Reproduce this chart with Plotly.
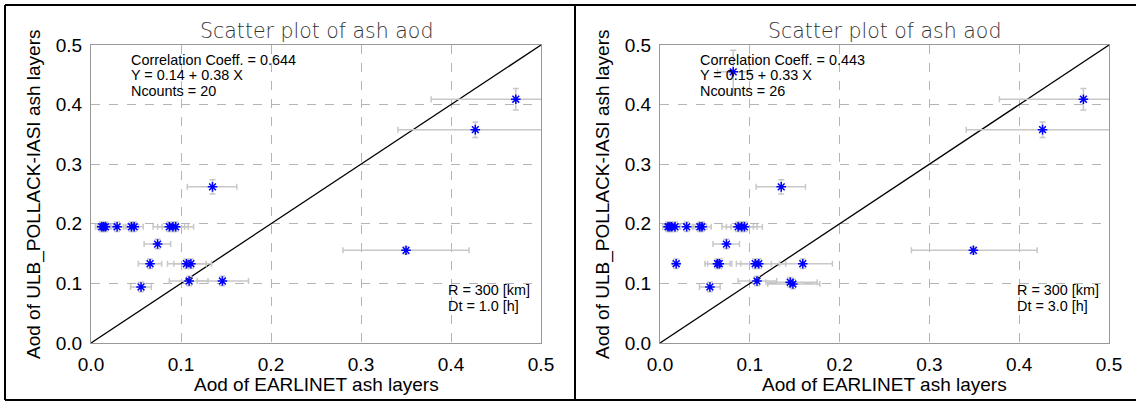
import plotly.graph_objects as go

W, H = 1136, 403

# ---------------- data: left panel (Dt = 1.0 h) ----------------
left_x = [0.135, 0.012, 0.014, 0.016, 0.029, 0.045, 0.048, 0.087, 0.091, 0.094,
          0.074, 0.0656, 0.106, 0.111, 0.109, 0.146, 0.0556, 0.472, 0.427, 0.350]
left_y = [0.262, 0.195, 0.195, 0.195, 0.195, 0.195, 0.195, 0.195, 0.195, 0.195,
          0.166, 0.133, 0.133, 0.133, 0.104, 0.104, 0.094, 0.409, 0.358, 0.1555]
left_xlo = [0.107, 0.005, 0.007, 0.008, 0.022, 0.038, 0.040, 0.069, 0.074, 0.079,
            0.059, 0.0526, 0.085, 0.092, 0.087, 0.118, 0.044, 0.378, 0.341, 0.280]
left_xhi = [0.162, 0.020, 0.022, 0.025, 0.036, 0.053, 0.058, 0.104, 0.108, 0.114,
            0.0885, 0.0785, 0.128, 0.134, 0.130, 0.175, 0.067, 0.566, 0.513, 0.420]
left_yerr = [0.012, 0.008, 0.008, 0.008, 0.008, 0.008, 0.008, 0.008, 0.008, 0.008,
             0.008, 0.008, 0.008, 0.008, 0.008, 0.008, 0.008, 0.018, 0.013, 0.006]

# ---------------- data: right panel (Dt = 3.0 h) ----------------
right_x = [0.0815, 0.135, 0.009, 0.011, 0.013, 0.0167, 0.0297, 0.0444, 0.0467, 0.087,
           0.091, 0.094, 0.074, 0.018, 0.064, 0.066, 0.106, 0.110, 0.159, 0.108,
           0.145, 0.148, 0.0556, 0.4715, 0.426, 0.349]
right_y = [0.455, 0.262, 0.195, 0.195, 0.195, 0.195, 0.195, 0.195, 0.195, 0.195,
           0.195, 0.195, 0.166, 0.133, 0.133, 0.133, 0.133, 0.133, 0.133, 0.104,
           0.102, 0.099, 0.094, 0.409, 0.358, 0.1555]
right_xlo = [0.064, 0.107, 0.003, 0.005, 0.007, 0.010, 0.022, 0.037, 0.039, 0.069,
             0.074, 0.079, 0.059, 0.014, 0.050, 0.053, 0.085, 0.090, 0.133, 0.087,
             0.118, 0.120, 0.044, 0.378, 0.341, 0.280]
right_xhi = [0.100, 0.162, 0.015, 0.017, 0.019, 0.023, 0.036, 0.052, 0.057, 0.104,
             0.108, 0.114, 0.0885, 0.022, 0.078, 0.080, 0.124, 0.140, 0.192, 0.130,
             0.175, 0.178, 0.067, 0.566, 0.513, 0.420]
right_yerr = [0.036, 0.012, 0.008, 0.008, 0.008, 0.008, 0.008, 0.008, 0.008, 0.008,
              0.008, 0.008, 0.008, 0.008, 0.008, 0.008, 0.008, 0.008, 0.008, 0.008,
              0.008, 0.008, 0.008, 0.018, 0.013, 0.006]

one_to_one = [0.0, 0.5]
tick_vals = [0.0, 0.1, 0.2, 0.3, 0.4, 0.5]
tick_text = ["0.0", "0.1", "0.2", "0.3", "0.4", "0.5"]

panels = [
    dict(x=left_x, y=left_y, xlo=left_xlo, xhi=left_xhi, yerr=left_yerr,
         corr="0.644", fit="Y = 0.14 + 0.38 X", n="20", dt="1.0",
         px0=91, px1=541, xa="x", ya="y"),
    dict(x=right_x, y=right_y, xlo=right_xlo, xhi=right_xhi, yerr=right_yerr,
         corr="0.443", fit="Y = 0.15 + 0.33 X", n="26", dt="3.0",
         px0=660, px1=1109, xa="x2", ya="y2"),
]

PT, PB = 45, 343  # plot area top / bottom in px

def px(v):
    return v / W

def py(v):
    return 1 - v / H

fig = go.Figure()
annotations = []
font_main = "Liberation Sans, Arial, sans-serif"

def label(text, x, y, size, anchor="left", angle=0, family=font_main, color="black", weight=None):
    f = dict(family=family, size=size, color=color)
    if weight is not None:
        f["weight"] = weight
    return dict(text=text, x=px(x), y=py(y), xref="paper", yref="paper", showarrow=False,
                xanchor=anchor, yanchor="middle", textangle=angle, font=f, borderpad=0)

for p in panels:
    errp = [hi - x for x, hi in zip(p["x"], p["xhi"])]
    errm = [x - lo for x, lo in zip(p["x"], p["xlo"])]
    fig.add_trace(go.Scatter(
        x=one_to_one, y=one_to_one, mode="lines",
        line=dict(color="black", width=1.3), xaxis=p["xa"], yaxis=p["ya"],
        showlegend=False, hoverinfo="skip"))
    fig.add_trace(go.Scatter(
        x=p["x"], y=p["y"], mode="markers", xaxis=p["xa"], yaxis=p["ya"],
        marker=dict(symbol="asterisk-open", size=8, color="#0000ff",
                    line=dict(color="#0000ff", width=1.5)),
        error_x=dict(type="data", symmetric=False, array=errp, arrayminus=errm,
                     color="#c8c8c8", thickness=1.5, width=3),
        error_y=dict(type="data", array=p["yerr"], color="#c8c8c8",
                     thickness=1.5, width=3),
        showlegend=False))
    cx = (p["px0"] + p["px1"]) / 2
    x0 = p["px0"]
    annotations += [
        label("Scatter plot of ash aod", cx, 31, 20.5, anchor="center",
              family="DejaVu Sans, sans-serif", color="#333333", weight=200),
        label("Aod of EARLINET ash layers", cx, 384, 19, anchor="center"),
        label("Aod of ULB_POLLACK-IASI ash layers", x0 - 57, (PT + PB) / 2, 19,
              anchor="center", angle=-90),
        label("Correlation Coeff. = " + p["corr"], x0 + 39, 60, 14.4),
        label(p["fit"], x0 + 39, 75.5, 14.4),
        label("Ncounts = " + p["n"], x0 + 39, 91.5, 14.4),
        label("R = 300 [km]", x0 + 356, 290, 14.4),
        label("Dt = " + p["dt"] + " [h]", x0 + 356, 306, 14.4),
    ]

axis_common = dict(range=[0, 0.5], tickvals=tick_vals, ticktext=tick_text,
                   showgrid=True, gridcolor="#b4b4b4", griddash="dash", gridwidth=1,
                   showline=True, linecolor="#999999", linewidth=1, mirror=True,
                   zeroline=False, ticks="outside", ticklen=4, tickcolor="rgba(0,0,0,0)",
                   fixedrange=True, automargin=False,
                   tickfont=dict(family=font_main, size=19, color="black"))

ydom = [1 - PB / H, 1 - PT / H]
fig.update_layout(
    template="none",
    width=W, height=H, margin=dict(l=0, r=0, t=0, b=0, pad=0, autoexpand=False),
    paper_bgcolor="white", plot_bgcolor="white",
    xaxis=dict(domain=[px(91), px(541)], anchor="y", **axis_common),
    yaxis=dict(domain=ydom, anchor="x", **axis_common),
    xaxis2=dict(domain=[px(660), px(1109)], anchor="y2", **axis_common),
    yaxis2=dict(domain=ydom, anchor="x2", **axis_common),
    annotations=annotations,
    shapes=[
        dict(type="line", xref="paper", yref="paper", x0=px(5), x1=1, y0=py(5), y1=py(5),
             line=dict(color="black", width=2)),
        dict(type="line", xref="paper", yref="paper", x0=px(5), x1=1, y0=py(400), y1=py(400),
             line=dict(color="black", width=2)),
        dict(type="line", xref="paper", yref="paper", x0=px(5), x1=px(5), y0=py(5), y1=py(400),
             line=dict(color="black", width=2)),
        dict(type="line", xref="paper", yref="paper", x0=px(575), x1=px(575), y0=py(5), y1=py(400),
             line=dict(color="black", width=2)),
    ],
)

fig.write_html("out.html")
